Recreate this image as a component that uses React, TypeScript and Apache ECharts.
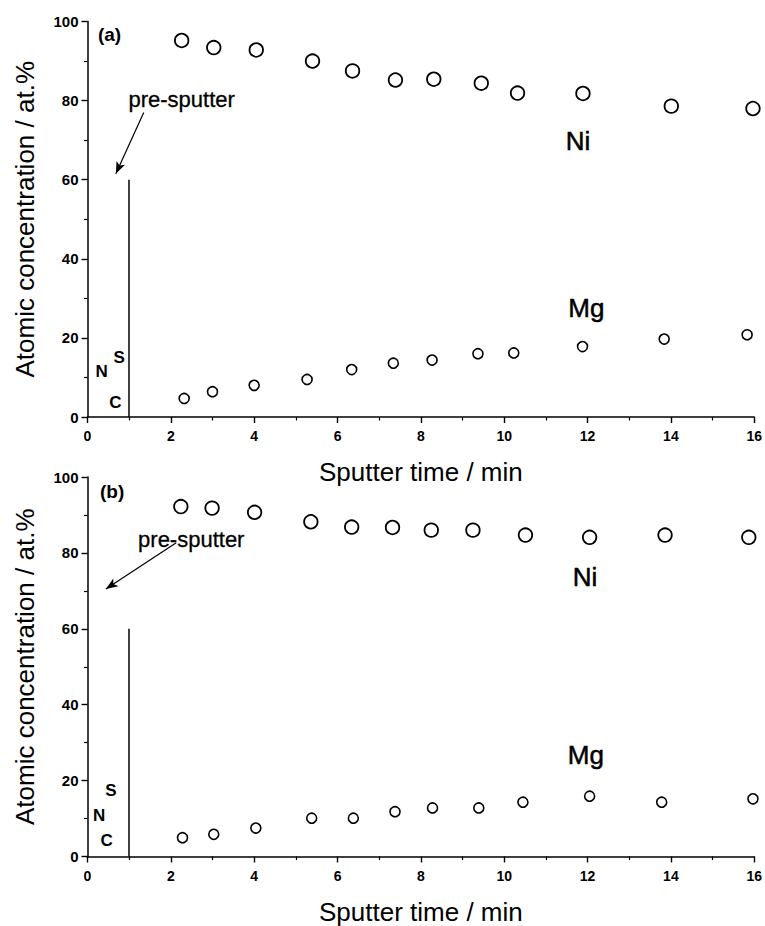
import React, { useEffect, useRef } from "react";
import * as echarts from "echarts";

// Panel (a)
const aNiX = [2.26, 3.03, 4.05, 5.4, 6.36, 7.39, 8.31, 9.45, 10.32, 11.89, 14.01, 15.97];
const aNiY = [95.2, 93.4, 92.8, 90.0, 87.5, 85.2, 85.4, 84.4, 81.9, 81.8, 78.6, 78.0];
const aMgX = [2.32, 3.0, 4.0, 5.27, 6.34, 7.34, 8.27, 9.37, 10.23, 11.88, 13.84, 15.83];
const aMgY = [4.7, 6.4, 8.0, 9.5, 12.0, 13.6, 14.4, 16.0, 16.2, 17.8, 19.7, 20.8];
// Panel (b)
const bNiX = [2.24, 2.99, 4.01, 5.36, 6.34, 7.32, 8.25, 9.25, 10.51, 12.05, 13.86, 15.87];
const bNiY = [92.2, 91.8, 90.7, 88.2, 86.8, 86.7, 86.0, 86.0, 84.7, 84.1, 84.7, 84.1];
const bMgX = [2.28, 3.03, 4.04, 5.38, 6.38, 7.38, 8.28, 9.39, 10.45, 12.05, 13.78, 15.97];
const bMgY = [4.95, 5.85, 7.5, 10.1, 10.1, 11.8, 12.8, 12.8, 14.3, 15.9, 14.3, 15.2];

// Annotations (data coordinates)
const elemText = ["N", "S", "C"];
const aElemX = [0.34, 0.76, 0.67];
const aElemY = [11.6, 15.0, 3.6];
const bElemX = [0.28, 0.56, 0.46];
const bElemY = [10.7, 17.5, 4.2];

const seriesText = ["Ni", "Mg"];
const aSeriesLabelX = [11.77, 11.97];
const aSeriesLabelY = [69.9, 27.6];
const bSeriesLabelX = [11.94, 11.96];
const bSeriesLabelY = [73.6, 26.8];

const panelText = ["(a)", "(b)"];
const panelLabelX = [0.53, 0.59];
const panelLabelY = [96.6, 96.3];

const preText = "pre-sputter";
const preLabelX = [2.26, 2.49];
const preLabelY = [80.3, 83.4];
const arrowFrom = [[1.35, 77.0], [2.13, 82.7]];
const arrowTo = [[0.68, 61.5], [0.44, 70.5]];

const sputterLine = [[1, 0], [1, 60]];

const xMin = 0, xMax = 16, xInterval = 2;
const yMin = 0, yMax = 100, yInterval = 20;

const FONT = "'Liberation Sans', Arial, Helvetica, sans-serif";

function zip(xs: number[], ys: number[]) {
  return xs.map((x, i) => [x, ys[i]]);
}

function labelSeries(idx: number, xs: number[], ys: number[], texts: string[], fontSize: number, bold: boolean, thicken = 0) {
  return {
    type: "scatter",
    xAxisIndex: idx,
    yAxisIndex: idx,
    symbol: "circle",
    symbolSize: 1,
    silent: true,
    itemStyle: { color: "rgba(0,0,0,0)", opacity: 1 },
    data: xs.map((x, i) => [x, ys[i], texts[i]]),
    label: {
      show: true,
      position: "inside",
      formatter: (p: any) => p.data[2],
      color: "#000",
      opacity: 1,
      fontSize,
      fontWeight: bold ? "bold" : "normal",
      fontFamily: FONT,
      textBorderColor: thicken > 0 ? "#000" : "transparent",
      textBorderWidth: thicken,
    },
    z: 5,
  };
}

function axisCommon() {
  return {
    axisLine: { show: true, onZero: false, lineStyle: { color: "#000", width: 1.5 } },
    axisTick: { show: true, inside: false, length: 6, lineStyle: { color: "#000", width: 1.4 } },
    minorTick: { show: true, splitNumber: 2, length: 3.5, lineStyle: { color: "#000", width: 1.2 } },
    splitLine: { show: false },
    minorSplitLine: { show: false },
  };
}

export default function App() {
  const ref = useRef<HTMLDivElement>(null);
  useEffect(() => {
    if (!ref.current) return;
    const chart = echarts.init(ref.current, undefined, { renderer: "svg" });
    const grids = [
      { left: 87.5, right: 9, top: 21.5, height: 395.5 },
      { left: 87.5, right: 9, top: 477, height: 379.5 },
    ];
    const xAxes = [0, 1].map((i) => ({
      type: "value",
      gridIndex: i,
      min: xMin,
      max: xMax,
      interval: xInterval,
      ...axisCommon(),
      axisLabel: { color: "#000", fontSize: 14, fontWeight: "bold", fontFamily: FONT, margin: 12 },
      name: "Sputter time / min",
      nameLocation: "middle",
      nameGap: 42,
      nameTextStyle: { color: "#000", fontSize: 26, fontFamily: FONT, verticalAlign: "top" },
    }));
    const yAxes = [0, 1].map((i) => ({
      type: "value",
      gridIndex: i,
      min: yMin,
      max: yMax,
      interval: yInterval,
      ...axisCommon(),
      axisLabel: { color: "#000", fontSize: 15, fontWeight: "bold", fontFamily: FONT, margin: 9 },
      name: "Atomic concentration / at.%",
      nameLocation: "middle",
      nameGap: 50,
      nameRotate: 90,
      nameTextStyle: { color: "#000", fontSize: 26, fontFamily: FONT },
    }));

    const panels = [
      { ni: zip(aNiX, aNiY), mg: zip(aMgX, aMgY), ex: aElemX, ey: aElemY, sx: aSeriesLabelX, sy: aSeriesLabelY },
      { ni: zip(bNiX, bNiY), mg: zip(bMgX, bMgY), ex: bElemX, ey: bElemY, sx: bSeriesLabelX, sy: bSeriesLabelY },
    ];

    const series: any[] = [];
    panels.forEach((p, i) => {
      series.push({
        type: "scatter",
        name: "Ni",
        xAxisIndex: i,
        yAxisIndex: i,
        symbol: "circle",
        symbolSize: 13.5,
        itemStyle: { color: "#fff", borderColor: "#000", borderWidth: 1.8, opacity: 1 },
        data: p.ni,
        silent: true,
        z: 3,
      });
      series.push({
        type: "scatter",
        name: "Mg",
        xAxisIndex: i,
        yAxisIndex: i,
        symbol: "circle",
        symbolSize: 10,
        itemStyle: { color: "#fff", borderColor: "#000", borderWidth: 1.6, opacity: 1 },
        data: p.mg,
        silent: true,
        z: 3,
        markLine: {
          silent: true,
          animation: false,
          label: { show: false },
          lineStyle: { color: "#000", width: 1.5, type: "solid", opacity: 1 },
          symbol: ["none", "none"],
          data: [
            [
              { coord: sputterLine[0], symbol: "none" },
              { coord: sputterLine[1], symbol: "none" },
            ],
            [
              { coord: arrowFrom[i], symbol: "none", lineStyle: { width: 1.2, color: "#000" } },
              { coord: arrowTo[i], symbol: "arrow", symbolSize: [7, 12] },
            ],
          ],
        },
      });
      series.push(labelSeries(i, p.ex, p.ey, elemText, 17, true));
      series.push(labelSeries(i, p.sx, p.sy, seriesText, 26, false, 0.5));
      series.push(labelSeries(i, [panelLabelX[i]], [panelLabelY[i]], [panelText[i]], 19, true));
      series.push(labelSeries(i, [preLabelX[i]], [preLabelY[i]], [preText], 22, false, 0.3));
    });

    chart.setOption({
      animation: false,
      backgroundColor: "#fff",
      grid: grids,
      xAxis: xAxes,
      yAxis: yAxes,
      series,
    });
    return () => chart.dispose();
  }, []);
  return (
    <div
      ref={ref}
      style={{ position: "absolute", left: 0, top: 0, width: 765, height: 926, background: "#fff" }}
    />
  );
}
